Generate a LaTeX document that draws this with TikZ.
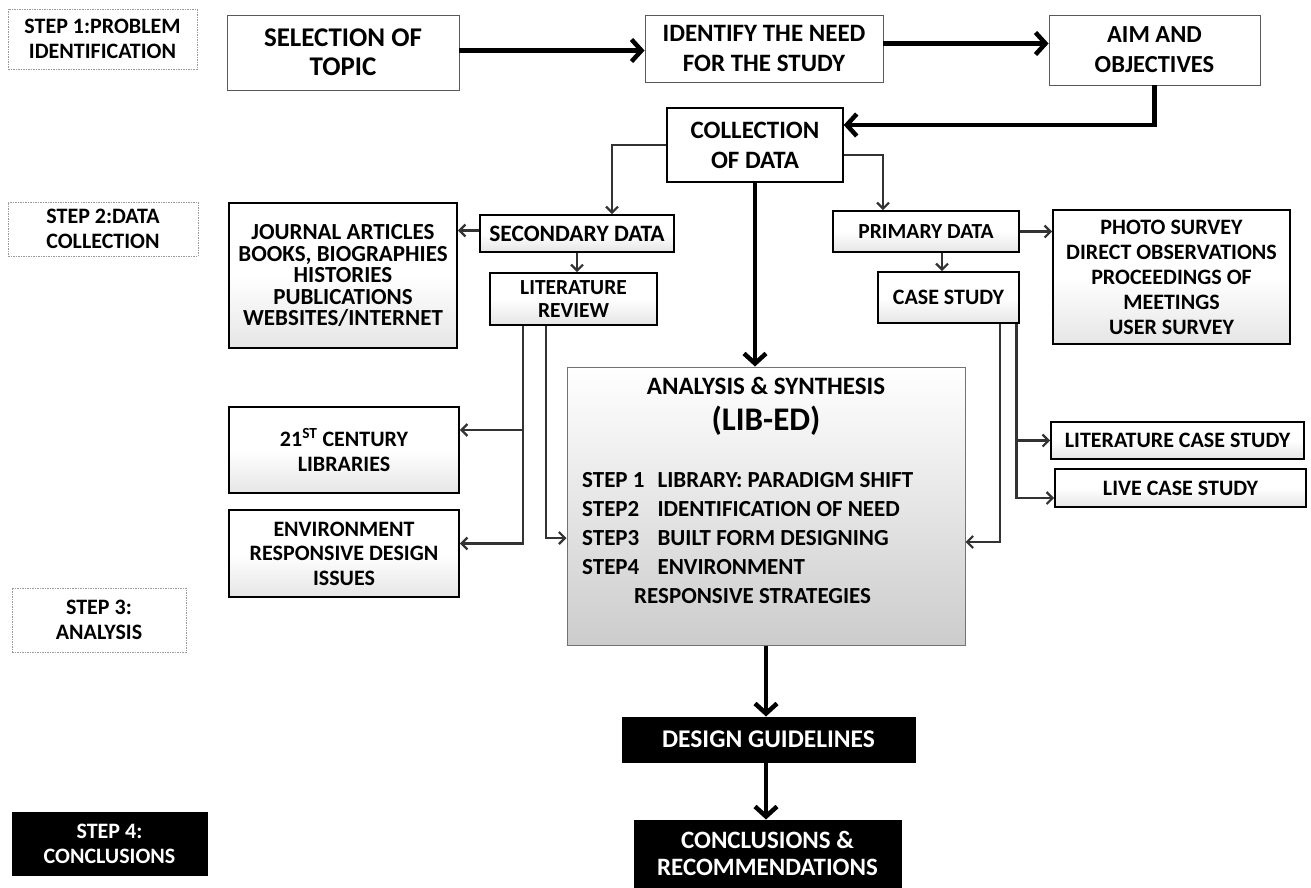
\documentclass[tikz,border=0pt]{standalone}
\usepackage{fontspec}
\setmainfont{Carlito}
\usetikzlibrary{arrows.meta,calc}
\newcommand{\fs}[2]{\bfseries\fontsize{#1}{#2}\selectfont}
\tikzset{
  base/.style={align=center, inner sep=0pt, text=black},
  topbox/.style={base, draw=black!65, line width=0.9pt, fill=white, font=\fs{25}{30}},
  midbox/.style={base, draw=black, line width=1.8pt, top color=white, bottom color=black!10, middle color=white, font=\fs{22}{25}},
  stepbox/.style={base, draw=black!40, line width=0.8pt, dash pattern=on 1.5pt off 1pt, font=\fs{22}{25}},
  darkbox/.style={base, draw=black, fill=black, text=white, line width=1pt, font=\fs{25.5}{28}},
  bigarr/.style={line width=4.5pt, -{Straight Barb[length=10pt,width=22pt,line width=4.5pt]}},
  thinarr/.style={line width=2.2pt, draw=black!80, -{Straight Barb[length=6pt,width=12pt,line width=2.2pt]}},
}
\begin{document}
\begin{tikzpicture}[x=1pt,y=-1pt]
\useasboundingbox (0,0) rectangle (1311,887);
% step labels
\node[stepbox, minimum width=189, minimum height=60] (st1) at (102.5,39) {STEP 1:PROBLEM\\IDENTIFICATION};
\node[stepbox, minimum width=190, minimum height=54] (st2) at (103,229) {STEP 2:DATA\\COLLECTION};
\node[stepbox, minimum width=174, minimum height=64] (st3) at (99,620) {STEP 3:\\ANALYSIS};
\node[darkbox, font=\fs{22}{25}, minimum width=195, minimum height=63] (st4) at (109.5,843.5) {STEP 4:\\CONCLUSIONS};
% top row
\node[topbox, font=\fs{27}{29}, minimum width=232, minimum height=75] (sel) at (343,52.5) {SELECTION OF\\TOPIC};
\node[topbox, minimum width=238, minimum height=67] (need) at (764,48.5) {IDENTIFY THE NEED\\FOR THE STUDY};
\node[topbox, font=\fs{24.5}{30}, minimum width=211, minimum height=70] (aim) at (1154.5,50) {AIM AND\\OBJECTIVES};
\node[topbox, draw=black, line width=1.4pt, minimum width=176, minimum height=74] (coll) at (755,145) {COLLECTION\\OF DATA};
% middle boxes
\node[midbox, font=\fs{23.5}{25}, minimum width=194, minimum height=37] (sec) at (577,233.5) {SECONDARY DATA};
\node[midbox, font=\fs{21.5}{23}, minimum width=167, minimum height=52] (lit) at (573.5,299) {LITERATURE\\REVIEW};
\node[midbox, font=\fs{23}{21.5}, minimum width=228, minimum height=145] (jour) at (343,275.5) {JOURNAL ARTICLES\\BOOKS, BIOGRAPHIES\\HISTORIES\\PUBLICATIONS\\WEBSITES/INTERNET};
\node[midbox, font=\fs{21.5}{25}, minimum width=186, minimum height=41] (prim) at (926,231.5) {PRIMARY DATA};
\node[midbox, minimum width=141, minimum height=51] (case) at (948.5,297.5) {CASE STUDY};
\node[midbox, minimum width=237, minimum height=134] (photo) at (1171.5,277) {PHOTO SURVEY\\DIRECT OBSERVATIONS\\PROCEEDINGS OF\\MEETINGS\\USER SURVEY};
\node[midbox, minimum width=230, minimum height=86] (cent) at (344,450) {21\textsuperscript{ST} CENTURY\\LIBRARIES};
\node[midbox, font=\fs{22}{24.5}, minimum width=230, minimum height=87] (env) at (344,553.5) {ENVIRONMENT\\RESPONSIVE DESIGN\\ISSUES};
\node[midbox, minimum width=253, minimum height=37] (lcs) at (1177.5,440.5) {LITERATURE CASE STUDY};
\node[midbox, minimum width=251, minimum height=38] (live) at (1180.5,488) {LIVE CASE STUDY};
% analysis
\node[base, draw=black!55, line width=1pt, top color=white, middle color=white, bottom color=black!20, minimum width=398, minimum height=278] (ana) at (766,506) {};
\node[base, font=\fs{25}{28}] (anat) at (766,386) {ANALYSIS \& SYNTHESIS};
\node[base, font=\fs{33}{38}] (lib) at (766,421) {(LIB-ED)};
\node[base, anchor=west, align=left, font=\fs{23}{28.5}] (steps) at (582,540) {%
\begin{tabular}{@{}l@{\hspace{13pt}}l@{}}
STEP 1 & LIBRARY: PARADIGM SHIFT\\[0.5pt]
STEP2 & IDENTIFICATION OF NEED\\[0.5pt]
STEP3 & BUILT FORM DESIGNING\\[0.5pt]
STEP4 & ENVIRONMENT\\[0.5pt]
\multicolumn{2}{@{}l@{}}{\hspace{52pt}RESPONSIVE STRATEGIES}
\end{tabular}};
% bottom
\node[darkbox, minimum width=293, minimum height=45] (dg) at (768.5,739.5) {DESIGN GUIDELINES};
\node[darkbox, font=\fs{25}{27}, minimum width=267, minimum height=67] (cr) at (767.5,853.5) {CONCLUSIONS \&\\RECOMMENDATIONS};
% connectors
\draw[bigarr] ([yshift=2pt]sel.east) -- ([yshift=2pt]sel.east -| need.west);
\draw[bigarr] ([yshift=5pt]need.east) -- ([yshift=5pt]need.east -| aim.west);
\draw[bigarr] (aim.south) |- ([yshift=20pt]coll.east);
\draw[bigarr] (coll.south) -- (coll.south |- ana.north);
\draw[thinarr] (coll.west) -| ([xshift=35pt]sec.north);
\draw[thinarr] ([yshift=-10pt]coll.east) -| ([xshift=-43pt]prim.north);
\draw[thinarr] ([yshift=3pt]sec.west) -- ([yshift=3pt]sec.west -| jour.east);
\draw[thinarr] (sec.south) -- (sec.south |- lit.north);
\draw[thinarr] (prim.east) -- (prim.east -| photo.west);
\draw[thinarr] ([xshift=16pt]prim.south) -- ([xshift=16pt]prim.south |- case.north);
\coordinate (litA) at ([xshift=-50.5pt]lit.south);
\coordinate (litB) at ([xshift=-27.5pt]lit.south);
\coordinate (cj) at ([yshift=20pt]cent.east);
\draw[thinarr] (litA) |- ([yshift=10pt]env.east);
\draw[thinarr] (litA |- cj) -- (cj);
\draw[thinarr] (litB) |- ([yshift=-32pt]ana.west);
\coordinate (caseA) at ([xshift=51.5pt]case.south);
\coordinate (caseB) at ([xshift=68pt]case.south);
\draw[thinarr] (caseA) |- ([yshift=-36pt]ana.east);
\draw[thinarr] (caseB) |- ([yshift=-10pt]live.west);
\draw[thinarr] (caseB |- lcs.west) -- (lcs.west);
\draw[bigarr] (ana.south) -- (ana.south |- dg.north);
\draw[bigarr] (ana.south |- dg.south) -- (ana.south |- cr.north);
\end{tikzpicture}
\end{document}
